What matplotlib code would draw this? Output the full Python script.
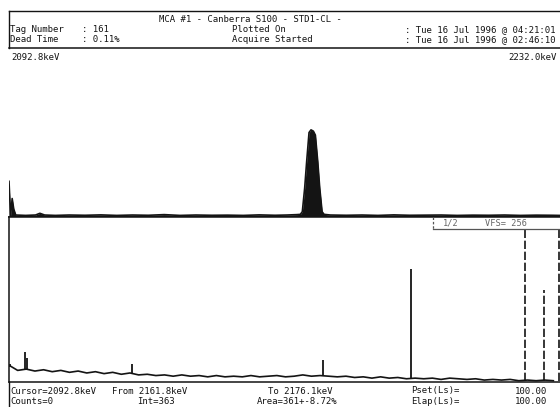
import numpy as np
import matplotlib
matplotlib.use("Agg")
import matplotlib.pyplot as plt
from matplotlib.lines import Line2D
from matplotlib.patches import Rectangle

W, H = 560, 407
FONT = "DejaVu Sans Mono"
FS = 6.5
INK = "#141414"

# ---------------- data ----------------
title = "MCA #1 - Canberra S100 - STD1-CL -"
header_left = [("Tag Number", ": 161"), ("Dead Time", ": 0.11%")]
header_right = [("Plotted On", ": Tue 16 Jul 1996 @ 04:21:01"),
                ("Acquire Started", ": Tue 16 Jul 1996 @ 02:46:10")]
top_range = (2092.8, 2232.0)
top_labels = ("2092.8keV", "2232.0keV")

top_energy = [2092.8, 2093.2, 2093.6, 2094.0, 2094.5, 2097.0, 2099.5, 2100.6, 2101.8,
              2104.5, 2108.0, 2112.0, 2116.0, 2120.0, 2124.0, 2128.0, 2132.0, 2136.0,
              2140.0, 2144.0, 2148.0, 2152.0, 2156.0, 2160.0, 2163.0, 2165.5, 2166.4,
              2166.9, 2167.5, 2168.0, 2168.6, 2169.1, 2169.7, 2170.2, 2170.8, 2171.3,
              2171.9, 2172.4, 2174.0, 2178.0, 2182.0, 2186.0, 2190.0, 2194.0, 2198.0,
              2202.0, 2206.0, 2210.0, 2214.0, 2218.0, 2222.0, 2226.0, 2230.0, 2232.0]
top_counts = [27, 1, 14, 6, 1.5, 1.2, 1.5, 2.8, 1.5,
              1.2, 1.5, 1.3, 1.6, 1.2, 1.5, 1.3, 1.8, 1.2,
              1.5, 1.3, 1.4, 1.2, 1.6, 1.3, 1.5, 1.8, 2,
              4, 22, 42, 64, 66, 65, 62, 42, 22,
              4, 2, 1.5, 1.3, 1.5, 1.2, 1.6, 1.3, 1.4,
              1.5, 1.2, 1.4, 1.3, 1.5, 1.2, 1.4, 1.3, 1.2]

bottom_channels = list(range(0, 1024, 16))
bottom_counts = [26, 18, 20, 17, 19, 16, 18, 15, 17, 14,
                 16, 13, 15, 12, 14, 11, 12, 10, 11, 9,
                 11, 9, 10, 8, 10, 8, 9, 8, 10, 8,
                 9, 10, 8, 9, 11, 9, 10, 9, 8, 9,
                 7, 8, 6, 8, 6, 7, 5, 6, 5, 6,
                 4, 6, 5, 4, 5, 3, 4, 3, 4, 2,
                 3, 2, 3, 2]
peak_channels = [2, 30, 34, 228, 582, 744, 955, 990, 1018]
peak_heights = [28, 46, 38, 28, 34, 176, 400, 143, 400]
peak_bases = [24, 19, 19, 12, 9, 5, 2, 2, 2]
peak_dashed = [False, False, False, False, False, False, True, True, True]
vfs_text = ("1/2", "VFS= 256")

footer_row1 = [("Cursor=2092.8keV", 10), ("From 2161.8keV", 112), ("To 2176.1keV", 268),
               ("Pset(Ls)=", 411), ("100.00", 515)]
footer_row2 = [("Counts=0", 10), ("Int=363", 137), ("Area=361+-8.72%", 257),
               ("Elap(Ls)=", 411), ("100.00", 515)]

# ---------------- helpers ----------------
def rect(l, t, r, b):
    return [l / W, 1 - b / H, (r - l) / W, (b - t) / H]

def fx(x):
    return x / W

def fy(y):
    return 1 - y / H

fig = plt.figure(figsize=(W / 100, H / 100), dpi=100)
fig.patch.set_facecolor("white")

def ftext(x, y, s, ha="left", color=INK):
    fig.text(fx(x), fy(y), s, ha=ha, va="center", fontsize=FS,
             family=FONT, color=color)

# header frame
fig.add_artist(Line2D([fx(9), 1], [fy(11), fy(11)], color=INK, lw=1.0))
fig.add_artist(Line2D([fx(9), fx(9)], [fy(11), fy(48)], color=INK, lw=1.0))

ftext(159, 20, title)
for i, (lab, val) in enumerate(header_left):
    y = 30 + i * 10
    ftext(10, y, lab)
    ftext(82, y, val)
for i, (lab, val) in enumerate(header_right):
    y = 30 + i * 10
    ftext(232, y, lab)
    ftext(405, y, val)

# top panel
ax1 = fig.add_axes(rect(9, 48, 560, 217))
ax1.set_xlim(*top_range)
ax1.set_ylim(0, 128)
ax1.fill_between(top_energy, 0, top_counts, color=INK, lw=0)
ax1.plot(top_energy, top_counts, color=INK, lw=1.2)
for s in ("left", "right"):
    ax1.spines[s].set_visible(False)
for s in ("top", "bottom"):
    ax1.spines[s].set_color(INK)
    ax1.spines[s].set_linewidth(1.1)
ax1.set_xticks([])
ax1.set_yticks([])
ftext(11, 57, top_labels[0])
ftext(557, 57, top_labels[1], ha="right")

# bottom panel
ax2 = fig.add_axes(rect(9, 217, 562, 382))
ax2.set_xlim(0, 1024)
ax2.set_ylim(0, 256)
ax2.plot(bottom_channels, bottom_counts, color=INK, lw=1.2)
for c, h, b, d in zip(peak_channels, peak_heights, peak_bases, peak_dashed):
    ax2.vlines(c, b, h, color=INK, lw=1.3 if not d else 1.2,
               linestyles=(0, (5, 1.6)) if d else "solid")
for s in ("top", "bottom", "left"):
    ax2.spines[s].set_color(INK)
    ax2.spines[s].set_linewidth(1.1)
ax2.spines["right"].set_visible(False)
ax2.set_xticks([])
ax2.set_yticks([])

# VFS box
fig.add_artist(Rectangle((fx(433), fy(229)), fx(562) - fx(433), fy(218) - fy(229),
                         facecolor="white", edgecolor="none", zorder=5))
fig.add_artist(Line2D([fx(433), 1], [fy(229), fy(229)], color="#555", lw=0.9, zorder=6))
fig.add_artist(Line2D([fx(433), fx(433)], [fy(217), fy(229)], color="#555", lw=0.9,
                      ls=(0, (2, 1.5)), zorder=6))
fig.text(fx(443), fy(223), vfs_text[0], ha="left", va="center", fontsize=FS - 0.3,
         family=FONT, color="#666", zorder=7)
fig.text(fx(485), fy(223), vfs_text[1], ha="left", va="center", fontsize=FS - 0.3,
         family=FONT, color="#666", zorder=7)

# footer
fig.add_artist(Line2D([fx(9), fx(9)], [fy(382), 0], color=INK, lw=1.0))
for s, x in footer_row1:
    ftext(x, 391, s)
for s, x in footer_row2:
    ftext(x, 401, s)

fig.savefig("out.png", dpi=100, facecolor="white")
